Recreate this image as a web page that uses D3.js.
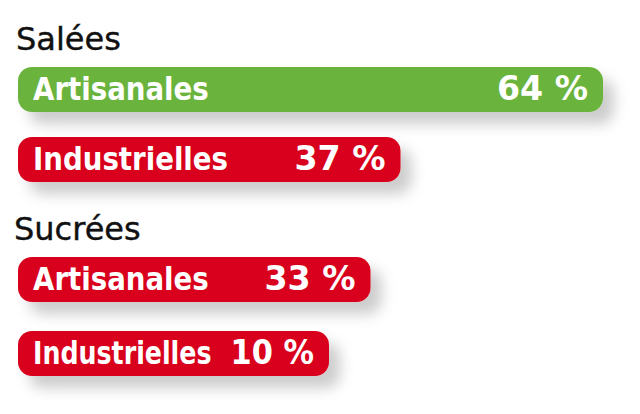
<!DOCTYPE html>
<html>
<head>
<meta charset="utf-8">
<script src="https://cdn.jsdelivr.net/npm/d3@7"></script>
<style>
  body { margin: 0; background: #fff; }
  svg { display: block; }
  .title { font-family: "DejaVu Sans", sans-serif; font-size: 32px; fill: #111; stroke: #111; stroke-width: 0.4px; }
  .lbl { font-family: "DejaVu Sans Condensed", "DejaVu Sans", sans-serif; font-weight: bold; fill: #fff; }
  .name { font-size: 32px; }
  .val { font-size: 33px; }
</style>
</head>
<body>
<svg id="viz" width="640" height="414"></svg>
<script>
// data
const groups = ["Salées", "Sucrées"]
const labels = ["Artisanales", "Industrielles", "Artisanales", "Industrielles"]
const values = [64, 37, 33, 10]
const groupOf = [0, 0, 1, 1]

const GREEN = "#6ab43e", RED = "#d8001c"
const BAR_H = 45, STEP = 70, MIN_W = 311
const NAME_SX = 0.96, VAL_SX = 1.12, PAD = 15, GAP = 19

var svg = d3.select("svg#viz")

const defs = svg.append("defs")
const f = defs.append("filter").attr("id", "shadow")
    .attr("x", "-10%").attr("y", "-40%").attr("width", "135%").attr("height", "220%")
f.append("feDropShadow").attr("dx", 11).attr("dy", 12)
    .attr("stdDeviation", 7).attr("flood-color", "#000").attr("flood-opacity", 0.2)

// bar length scale (short bars are held at a minimum length, text squeezed)
var x_scale = d3.scaleLinear().domain([0, 64]).range([105, 585])
// group top positions
var g_scale = d3.scalePoint().domain(groups).range([27, 217])

const rows = values.map((v, i) => ({
    value: v, label: labels[i], group: groups[groupOf[i]],
    idx: labels.slice(0, i).filter((l, j) => groupOf[j] === groupOf[i]).length
}))
const maxV = d3.max(values)

svg.selectAll("text.title").data(groups)
    .join("text")
    .attr("class", "title")
    .attr("x", d => d == "Salées" ? 16 : 14)
    .attr("y", d => g_scale(d) + 23)
    .text(d => d)

const bars = svg.selectAll("g.bar").data(rows)
    .join("g")
    .attr("class", "bar")
    .attr("transform", d => `translate(18, ${g_scale(d.group) + 40 + d.idx * STEP + (d.group == "Sucrées" ? d.idx * 4 : 0)})`)

bars.append("rect").attr("class", "bg")
bars.append("text").attr("class", "lbl name").text(d => d.label)
bars.append("text").attr("class", "lbl val")
    .attr("text-anchor", "end")
    .text(d => d.value + " %")

bars.each(function(d) {
    const g = d3.select(this)
    const nw = g.select("text.name").node().getComputedTextLength() * NAME_SX
    const vw = g.select("text.val").node().getComputedTextLength() * VAL_SX
    const w = Math.max(x_scale(d.value), MIN_W)
    const k = Math.min(1, (w - 2 * PAD - GAP) / (nw + vw))
    g.select("rect")
        .attr("width", w).attr("height", BAR_H)
        .attr("rx", 14).attr("ry", 14)
        .attr("fill", d.value == maxV ? GREEN : RED)
        .attr("filter", "url(#shadow)")
    g.select("text.name").attr("transform", `translate(${PAD}, 33) scale(${NAME_SX * k},1)`)
    g.select("text.val").attr("transform", `translate(${w - PAD}, 33) scale(${VAL_SX * k},1)`)
})
</script>
</body>
</html>
